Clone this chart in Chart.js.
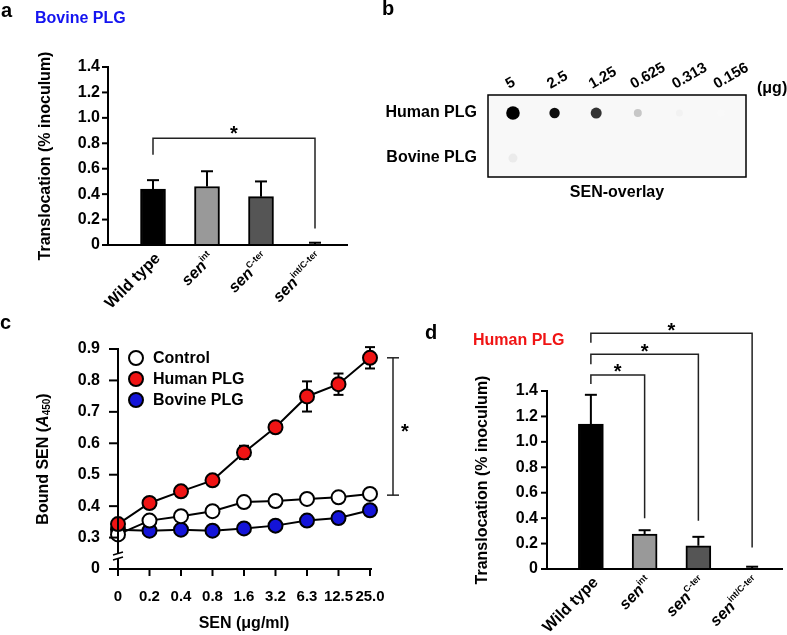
<!DOCTYPE html>
<html>
<head>
<meta charset="utf-8">
<script src="https://cdn.jsdelivr.net/npm/chart.js@4.4.1/dist/chart.umd.min.js"></script>
<style>
  html, body { margin: 0; padding: 0; background: #fff; }
  #wrap { position: relative; width: 787px; height: 635px; overflow: hidden; }
  canvas { position: absolute; }
</style>
</head>
<body>
<div id="wrap">
  <canvas id="ca" width="360" height="320" style="left:0px;top:0px"></canvas>
  <canvas id="cb" width="427" height="205" style="left:360px;top:0px"></canvas>
  <canvas id="cc" width="420" height="335" style="left:0px;top:300px"></canvas>
  <canvas id="cd" width="367" height="345" style="left:420px;top:290px"></canvas>
</div>
<script>
// ---- data ----
const strains = ["Wild type", "sen^int", "sen^C-ter", "sen^int/C-ter"];
const bovineMean = [0.44, 0.46, 0.38, 0.003];
const bovineSD = [0.07, 0.12, 0.12, 0.015];
const humanMean = [1.14, 0.275, 0.183, 0.003];
const humanSD = [0.23, 0.03, 0.07, 0.015];

const blotDoses = ["5", "2.5", "1.25", "0.625", "0.313", "0.156"];
const blotRows = ["Human PLG", "Bovine PLG"];
const humanSpot = [1.0, 0.95, 0.8, 0.22, 0.05, 0.025];
const bovineSpot = [0.08, 0, 0, 0, 0, 0];
const humanSpotSize = [6.8, 5.2, 5.5, 4, 3.5, 3.5];
const bovineSpotSize = [4.5, 0, 0, 0, 0, 0];

const senConc = ["0", "0.2", "0.4", "0.8", "1.6", "3.2", "6.3", "12.5", "25.0"];
const controlA450 = [0.31, 0.354, 0.368, 0.384, 0.413, 0.416, 0.423, 0.428, 0.439];
const humanA450 = [0.343, 0.41, 0.447, 0.482, 0.571, 0.651, 0.749, 0.788, 0.872];
const bovineA450 = [0.325, 0.322, 0.325, 0.322, 0.329, 0.338, 0.354, 0.362, 0.387];
const controlErr = [0.008, 0.006, 0.006, 0.006, 0.008, 0.006, 0.006, 0.006, 0.006];
const humanErr = [0.008, 0.008, 0.008, 0.008, 0.021, 0.008, 0.048, 0.034, 0.034];
const bovineErr = [0.006, 0.006, 0.006, 0.012, 0.006, 0.006, 0.006, 0.006, 0.006];

const FONT = "'Liberation Sans', Arial, sans-serif";
Chart.defaults.font.family = FONT;
Chart.defaults.font.weight = "bold";
Chart.defaults.color = "#000";
Chart.defaults.animation = false;
Chart.defaults.plugins.legend.display = false;
Chart.defaults.plugins.tooltip.enabled = false;

function line(ctx, x1, y1, x2, y2) {
  ctx.beginPath();
  ctx.moveTo(x1, y1);
  ctx.lineTo(x2, y2);
  ctx.stroke();
}

function text(ctx, s, x, y, font, color, align, base) {
  ctx.font = font;
  ctx.fillStyle = color || "#000";
  ctx.textAlign = align || "left";
  ctx.textBaseline = base || "alphabetic";
  ctx.fillText(s, x, y);
}

// asterisk centred on (x, cy): glyph sits high in the em box
function star(ctx, x, cy) {
  text(ctx, "*", x, cy + 11.5, "bold 20px " + FONT, "#000", "center");
}

// rotated strain label, "sen^int" -> italic sen + superscript
function geneLabel(ctx, label, px, py) {
  const [base, sup] = label.split("^");
  ctx.save();
  ctx.translate(px, py);
  ctx.rotate(-Math.PI / 4);
  ctx.textBaseline = "middle";
  ctx.textAlign = "left";
  ctx.fillStyle = "#000";
  const baseFont = sup ? "italic bold 16px " + FONT : "bold 16px " + FONT;
  const supFont = "bold 9px " + FONT;
  ctx.font = supFont;
  const sw = sup ? ctx.measureText(sup).width : 0;
  ctx.font = baseFont;
  const bw = ctx.measureText(base).width;
  ctx.fillText(base, -(bw + sw), 0);
  if (sup) {
    ctx.font = supFont;
    ctx.fillText(sup, -sw, -5);
  }
  ctx.restore();
}

// ---- bar panels (a, d) ----
const barDecor = {
  id: "barDecor",
  afterDatasetsDraw(chart, args, o) {
    const { ctx, chartArea: ca, scales: { x, y } } = chart;
    const sds = o.sds;
    ctx.save();
    ctx.strokeStyle = "#000";
    ctx.lineWidth = 2;
    // error bars (upper half only)
    chart.getDatasetMeta(0).data.forEach((bar, i) => {
      const v = chart.data.datasets[0].data[i];
      const top = y.getPixelForValue(v);
      const e = y.getPixelForValue(v + sds[i]);
      line(ctx, bar.x, top, bar.x, e);
      line(ctx, bar.x - 6, e, bar.x + 6, e);
    });
    // axes
    const ax = ca.left - o.axisGap;
    const y0 = y.getPixelForValue(0);
    line(ctx, ax, y.getPixelForValue(y.max) - 1, ax, y0 + 1);
    line(ctx, ax - 1, y0, ca.right + o.axisExtra, y0);
    y.ticks.forEach(t => {
      const py = y.getPixelForValue(t.value);
      line(ctx, ax - 6, py, ax, py);
    });
    // significance brackets
    ctx.lineWidth = 1.5;
    ctx.strokeStyle = "#222";
    o.brackets.forEach(b => {
      const x1 = x.getPixelForValue(b.from);
      const x2 = x.getPixelForValue(b.to);
      const yl = y.getPixelForValue(b.level);
      ctx.beginPath();
      ctx.moveTo(x1, y.getPixelForValue(b.leftEnd));
      ctx.lineTo(x1, yl);
      ctx.lineTo(x2, yl);
      ctx.lineTo(x2, y.getPixelForValue(b.rightEnd));
      ctx.stroke();
      star(ctx, (x1 + x2) / 2, yl - o.starLift);
    });
    // rotated category labels
    chart.data.labels.forEach((lab, i) => {
      geneLabel(ctx, lab, x.getPixelForValue(i) + 5, y0 + 11);
    });
    // panel letter + title
    text(ctx, o.letter, o.letterX, o.letterY, "bold 20px " + FONT);
    text(ctx, o.title, o.titleX, o.titleY, "bold 16px " + FONT, o.titleColor);
    ctx.restore();
  }
};

function barChart(id, means, sds, L) {
  return new Chart(document.getElementById(id), {
    type: "bar",
    data: {
      labels: strains,
      datasets: [{
        data: means,
        backgroundColor: ["#000", "#999", "#555", "#000"],
        borderColor: "#000",
        borderWidth: 2,
        barThickness: 25
      }]
    },
    options: {
      responsive: false,
      layout: { padding: { left: 0, right: L.padRight, top: L.padTop, bottom: 0 } },
      scales: {
        x: {
          type: "category",
          grid: { display: false, drawTicks: false },
          border: { display: false },
          ticks: { display: false },
          afterFit: s => { s.height = L.xHeight; }
        },
        y: {
          min: 0, max: 1.4,
          grid: { display: false, drawTicks: false },
          border: { display: false },
          ticks: {
            stepSize: 0.2,
            padding: L.tickPad,
            font: { size: 16, weight: "bold" },
            callback: v => (v === 0 ? "0" : v.toFixed(1))
          },
          title: {
            display: true,
            text: "Translocation (% inoculum)",
            font: { size: 16, weight: "bold" },
            padding: { top: L.titlePad, bottom: 0 }
          },
          afterFit: s => { s.width = L.yWidth; }
        }
      },
      plugins: {
        barDecor: {
          sds: sds,
          axisGap: L.axisGap,
          axisExtra: L.axisExtra,
          brackets: L.brackets,
          starLift: L.starLift,
          letter: L.letter, letterX: L.letterX, letterY: L.letterY,
          title: L.title, titleX: L.titleX, titleY: L.titleY, titleColor: L.titleColor
        }
      }
    },
    plugins: [barDecor]
  });
}

barChart("ca", bovineMean, bovineSD, {
  padRight: 18, padTop: 67, xHeight: 75, yWidth: 126, tickPad: 26, titlePad: 36,
  axisGap: 18, axisExtra: 6, starLift: 10,
  brackets: [{ from: 0, to: 3, level: 0.84, leftEnd: 0.71, rightEnd: 0.13 }],
  letter: "a", letterX: 1, letterY: 17,
  title: "Bovine PLG", titleX: 35, titleY: 23, titleColor: "#1414f0"
});

barChart("cd", humanMean, humanSD, {
  padRight: 8, padTop: 101, xHeight: 66, yWidth: 144, tickPad: 26, titlePad: 53,
  axisGap: 17, axisExtra: 4, starLift: 8,
  brackets: [
    { from: 0, to: 1, level: 1.526, leftEnd: 1.455, rightEnd: 0.40 },
    { from: 0, to: 2, level: 1.69, leftEnd: 1.61, rightEnd: 0.38 },
    { from: 0, to: 3, level: 1.855, leftEnd: 1.78, rightEnd: 0.17 }
  ],
  letter: "d", letterX: 5, letterY: 49,
  title: "Human PLG", titleX: 53, titleY: 55, titleColor: "#f01414"
});

// ---- panel b: dot blot ----
function spotColor(v) {
  const g = Math.round(255 * (1 - v));
  return "rgb(" + g + "," + g + "," + g + ")";
}

const blotDecor = {
  id: "blotDecor",
  beforeDatasetsDraw(chart) {
    const { ctx, chartArea: ca } = chart;
    ctx.save();
    ctx.fillStyle = "#f8f8f8";
    ctx.fillRect(ca.left, ca.top, ca.right - ca.left, ca.bottom - ca.top);
    ctx.restore();
    ctx.save();
    ctx.filter = "blur(0.7px)";
  },
  afterDatasetsDraw(chart) {
    const { ctx, chartArea: ca, scales: { x, y } } = chart;
    ctx.restore();
    ctx.save();
    ctx.strokeStyle = "#000";
    ctx.lineWidth = 1.5;
    ctx.strokeRect(ca.left, ca.top, ca.right - ca.left, ca.bottom - ca.top);
    blotRows.forEach((r, i) => {
      text(ctx, r, ca.left - 11, y.getPixelForValue(i), "bold 16px " + FONT, "#000", "right", "middle");
    });
    blotDoses.forEach((d, i) => {
      ctx.save();
      ctx.translate(x.getPixelForValue(i) - 4, 89);
      ctx.rotate(-30 * Math.PI / 180);
      text(ctx, d, 0, 0, "bold 15px " + FONT, "#000", "left", "alphabetic");
      ctx.restore();
    });
    text(ctx, "(\u03bcg)", 397, 93, "bold 16px " + FONT);
    text(ctx, "SEN-overlay", (ca.left + ca.right) / 2, 193, "bold 16px " + FONT, "#000", "center", "middle");
    text(ctx, "b", 22, 15, "bold 20px " + FONT);
    ctx.restore();
  }
};

const blotSets = [humanSpot, bovineSpot].map((row, r) => ({
  data: row.map((v, i) => ({ x: i, y: r })),
  pointRadius: (r === 0 ? humanSpotSize : bovineSpotSize),
  pointBackgroundColor: row.map(spotColor),
  pointBorderWidth: 0,
  pointBorderColor: "rgba(0,0,0,0)"
}));

new Chart(document.getElementById("cb"), {
  type: "scatter",
  data: { datasets: blotSets },
  options: {
    responsive: false,
    layout: { padding: { left: 128, right: 41, top: 95, bottom: 28 } },
    scales: {
      x: { display: false, min: -0.6, max: 5.6 },
      y: { display: false, min: -0.4, max: 1.42, reverse: true }
    }
  },
  plugins: [blotDecor]
});

// ---- panel c: binding curves ----
const curveDecor = {
  id: "curveDecor",
  beforeDatasetsDraw(chart, args, o) {
    const { ctx, scales: { x, y } } = chart;
    ctx.save();
    ctx.strokeStyle = "#000";
    ctx.lineWidth = 2;
    chart.data.datasets.forEach((ds, d) => {
      const err = o.errors[d];
      ds.data.forEach((v, i) => {
        const px = x.getPixelForValue(i);
        const hi = y.getPixelForValue(v + err[i]);
        const lo = y.getPixelForValue(v - err[i]);
        line(ctx, px, hi, px, lo);
        line(ctx, px - 5, hi, px + 5, hi);
        line(ctx, px - 5, lo, px + 5, lo);
      });
    });
    ctx.restore();
  },
  afterDraw(chart, args, o) {
    const { ctx, chartArea: ca, scales: { x, y } } = chart;
    const yb = y.getPixelForValue(y.min);
    ctx.save();
    ctx.strokeStyle = "#000";
    ctx.lineWidth = 2;
    // axes with break
    line(ctx, ca.left, y.getPixelForValue(y.max) - 1, ca.left, yb + 1);
    line(ctx, ca.left - 9, yb, ca.right + 2, yb);
    y.ticks.forEach(t => {
      const py = y.getPixelForValue(t.value);
      line(ctx, ca.left - 9, py, ca.left, py);
    });
    x.ticks.forEach((t, i) => {
      const px = x.getPixelForValue(i);
      line(ctx, px, yb, px, yb + 7);
    });
    const bk = yb - 13;
    ctx.fillStyle = "#fff";
    ctx.fillRect(ca.left - 3, bk - 3, 6, 6);
    ctx.lineWidth = 1.5;
    line(ctx, ca.left - 5, bk - 1, ca.left + 5, bk - 4);
    line(ctx, ca.left - 5, bk + 4, ca.left + 5, bk + 1);
    // legend
    chart.data.datasets.forEach((ds, d) => {
      const ly = 58 + d * 21;
      ctx.beginPath();
      ctx.arc(136, ly, 7, 0, Math.PI * 2);
      ctx.fillStyle = ds.pointBackgroundColor;
      ctx.fill();
      ctx.lineWidth = 2;
      ctx.strokeStyle = "#000";
      ctx.stroke();
      text(ctx, ds.label, 153, ly + 1, "bold 16px " + FONT, "#000", "left", "middle");
    });
    // significance bar between human and control at the top dose
    const last = senConc.length - 1;
    const bx = ca.right + 23;
    const t1 = y.getPixelForValue(humanA450[last]);
    const t2 = y.getPixelForValue(controlA450[last] - 0.004);
    ctx.lineWidth = 1.5;
    ctx.strokeStyle = "#222";
    line(ctx, bx, t1, bx, t2);
    line(ctx, bx - 6, t1, bx + 6, t1);
    line(ctx, bx - 6, t2, bx + 6, t2);
    star(ctx, bx + 12, (t1 + t2) / 2);
    // y title with italic A and subscript
    ctx.save();
    ctx.translate(44, (ca.top + ca.bottom) / 2);
    ctx.rotate(-Math.PI / 2);
    ctx.textBaseline = "middle";
    const parts = [["Bound SEN (", "bold 16px "], ["A", "italic bold 16px "], ["450", "bold 10px "], [")", "bold 16px "]];
    let w = 0;
    parts.forEach(p => { ctx.font = p[1] + FONT; w += ctx.measureText(p[0]).width; });
    let cx = -w / 2;
    parts.forEach(p => {
      ctx.font = p[1] + FONT;
      ctx.fillStyle = "#000";
      ctx.textAlign = "left";
      ctx.fillText(p[0], cx, p[0] === "450" ? 3 : 0);
      cx += ctx.measureText(p[0]).width;
    });
    ctx.restore();
    text(ctx, "c", 0, 29, "bold 20px " + FONT);
    ctx.restore();
  }
};

function series(label, values, fill, order) {
  return {
    label: label,
    data: values,
    order: order,
    borderColor: "#000",
    borderWidth: 2,
    pointRadius: 7,
    pointBorderWidth: 2,
    pointBorderColor: "#000",
    pointBackgroundColor: fill,
    backgroundColor: fill,
    clip: false
  };
}

new Chart(document.getElementById("cc"), {
  type: "line",
  data: {
    labels: senConc,
    datasets: [
      series("Control", controlA450, "#fff", 1),
      series("Human PLG", humanA450, "#f01414", 0),
      series("Bovine PLG", bovineA450, "#1414d8", 2)
    ]
  },
  options: {
    responsive: false,
    layout: { padding: { left: 0, right: 50, top: 49, bottom: 0 } },
    scales: {
      x: {
        type: "category",
        offset: false,
        grid: { display: false, drawTicks: false },
        border: { display: false },
        ticks: { padding: 19, font: { size: 15, weight: "bold" }, maxRotation: 0, autoSkip: false },
        title: { display: true, text: "SEN (\u03bcg/ml)", font: { size: 16, weight: "bold" }, padding: { top: 0, bottom: 2 } },
        afterFit: s => { s.height = 66; }
      },
      y: {
        min: 0.2, max: 0.9,
        grid: { display: false, drawTicks: false },
        border: { display: false },
        ticks: {
          stepSize: 0.1,
          padding: 18,
          font: { size: 16, weight: "bold" },
          callback: v => (v < 0.25 ? "0" : v.toFixed(1))
        },
        afterFit: s => { s.width = 118; }
      }
    },
    plugins: {
      curveDecor: { errors: [controlErr, humanErr, bovineErr] }
    }
  },
  plugins: [curveDecor]
});
</script>
</body>
</html>
